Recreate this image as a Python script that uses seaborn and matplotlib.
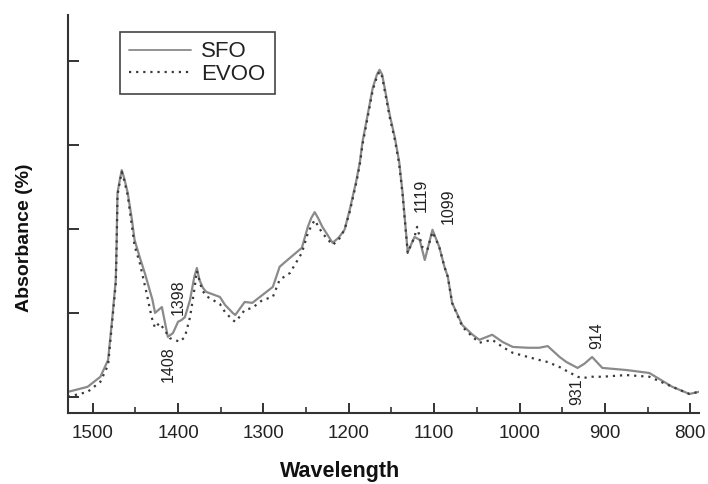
import matplotlib
matplotlib.use("Agg")
import matplotlib.pyplot as plt
from matplotlib.lines import Line2D
from matplotlib.ticker import MultipleLocator, NullFormatter
import pandas as pd
import seaborn as sns

# FTIR absorbance spectra (wavenumber axis runs high -> low)
sfo_wn = [1529, 1506, 1491, 1482, 1477, 1473, 1472, 1471, 1468, 1466, 1463, 1459,
          1454, 1451, 1445, 1439, 1430, 1427, 1419, 1412, 1406, 1400, 1396, 1392,
          1386, 1381, 1378, 1375, 1371, 1367, 1351, 1345, 1336, 1333, 1327, 1322,
          1313, 1301, 1289, 1281, 1269, 1255, 1248, 1244, 1240, 1236, 1231, 1219,
          1212, 1205, 1199, 1191, 1187, 1184, 1178, 1172, 1167, 1164, 1161, 1158,
          1152, 1146, 1141, 1137, 1131, 1123, 1117, 1111, 1102, 1094, 1088, 1084,
          1079, 1067, 1055, 1047, 1032, 1020, 1008, 990, 977, 967, 953, 945, 932,
          924, 915, 903, 875, 848, 821, 801, 790]
sfo_abs = [0.012, 0.024, 0.048, 0.088, 0.190, 0.279, 0.367, 0.486, 0.520, 0.540, 0.520, 0.486,
           0.421, 0.374, 0.333, 0.295, 0.231, 0.200, 0.214, 0.143, 0.152, 0.179, 0.183, 0.190,
           0.231, 0.286, 0.307, 0.279, 0.260, 0.250, 0.238, 0.219, 0.200, 0.195, 0.212, 0.226,
           0.224, 0.243, 0.262, 0.310, 0.331, 0.355, 0.405, 0.426, 0.440, 0.426, 0.405, 0.367,
           0.379, 0.398, 0.445, 0.517, 0.560, 0.607, 0.671, 0.736, 0.768, 0.779, 0.768, 0.736,
           0.671, 0.617, 0.560, 0.486, 0.345, 0.381, 0.374, 0.326, 0.398, 0.357, 0.310, 0.286,
           0.224, 0.171, 0.148, 0.136, 0.148, 0.131, 0.119, 0.117, 0.117, 0.121, 0.095, 0.083,
           0.069, 0.079, 0.095, 0.069, 0.064, 0.057, 0.024, 0.007, 0.012]

evoo_wn = [1529, 1506, 1491, 1482, 1477, 1473, 1472, 1471, 1468, 1466, 1463, 1459,
           1454, 1451, 1445, 1437, 1431, 1427, 1422, 1416, 1410, 1404, 1398, 1392,
           1386, 1381, 1378, 1372, 1367, 1351, 1345, 1336, 1333, 1327, 1322, 1313,
           1301, 1289, 1281, 1269, 1255, 1248, 1244, 1240, 1236, 1231, 1219, 1212,
           1205, 1199, 1191, 1187, 1184, 1178, 1172, 1167, 1164, 1161, 1158, 1152,
           1146, 1141, 1137, 1131, 1123, 1120, 1114, 1108, 1102, 1094, 1088, 1084,
           1079, 1067, 1055, 1047, 1032, 1020, 1008, 990, 977, 967, 953, 945, 932,
           926, 915, 903, 875, 848, 821, 801, 790]
evoo_abs = [0.000, 0.012, 0.036, 0.076, 0.183, 0.270, 0.360, 0.480, 0.515, 0.536, 0.515, 0.480,
            0.405, 0.360, 0.320, 0.248, 0.190, 0.164, 0.176, 0.160, 0.140, 0.136, 0.131, 0.143,
            0.190, 0.255, 0.300, 0.255, 0.240, 0.221, 0.202, 0.183, 0.179, 0.193, 0.207, 0.212,
            0.231, 0.238, 0.279, 0.295, 0.343, 0.390, 0.407, 0.421, 0.407, 0.390, 0.362, 0.374,
            0.398, 0.440, 0.512, 0.555, 0.600, 0.665, 0.730, 0.763, 0.775, 0.763, 0.730, 0.665,
            0.612, 0.555, 0.481, 0.343, 0.381, 0.405, 0.357, 0.350, 0.393, 0.357, 0.310, 0.286,
            0.224, 0.167, 0.143, 0.129, 0.136, 0.119, 0.105, 0.095, 0.088, 0.083, 0.071, 0.062,
            0.048, 0.045, 0.048, 0.048, 0.052, 0.048, 0.024, 0.007, 0.012]

series_names = ["SFO", "EVOO"]

# band assignments written next to the curves: (label, wavenumber, absorbance at text centre)
band_labels = ["1408", "1398", "1119", "1099", "914", "931"]
band_wn = [1412, 1400, 1115, 1083, 910, 933]
band_pos = [0.079, 0.238, 0.481, 0.455, 0.145, 0.012]

sfo = pd.DataFrame({"wn": sfo_wn, "absorbance": sfo_abs})
evoo = pd.DataFrame({"wn": evoo_wn, "absorbance": evoo_abs})

sns.set_theme(style="ticks")
plt.rcParams["font.family"] = ["Liberation Sans", "DejaVu Sans"]

fig = plt.figure(figsize=(7.08, 4.84), dpi=100)
ax = fig.add_axes([0.096, 0.147, 0.891, 0.822])

sfo_color = "#8a8a8a"
evoo_color = "#3a3a3a"
evoo_dash = (0, (1, 2.2))
sns.lineplot(data=sfo, x="wn", y="absorbance", ax=ax, estimator=None, sort=False,
             color=sfo_color, lw=1.6)
sns.lineplot(data=evoo, x="wn", y="absorbance", ax=ax, estimator=None, sort=False,
             color=evoo_color, lw=1.6, linestyle=evoo_dash)

for lab, w, a in zip(band_labels, band_wn, band_pos):
    ax.text(w, a, lab, rotation=90, ha="center", va="center", fontsize=11.5,
            color="#222222")

ax.set_xlim(1529, 790)
ax.set_ylim(-0.038, 0.9095)
ax.xaxis.set_major_locator(MultipleLocator(100))
ax.xaxis.set_minor_locator(MultipleLocator(50))
ax.yaxis.set_major_locator(MultipleLocator(0.2))
ax.yaxis.set_major_formatter(NullFormatter())
ax.tick_params(axis="x", which="major", direction="in", length=7, width=1.4,
               labelsize=13.5, colors="#333333", pad=9)
ax.tick_params(axis="x", which="minor", direction="in", length=4, width=1.2,
               colors="#333333")
ax.tick_params(axis="y", which="major", direction="in", length=8, width=1.4,
               colors="#333333")
for lbl in ax.get_xticklabels():
    lbl.set_color("#222222")

sns.despine(ax=ax)
for side in ("left", "bottom"):
    ax.spines[side].set_linewidth(1.5)
    ax.spines[side].set_color("#333333")

ax.set_xlabel("Wavelength", fontsize=15.5, fontweight="bold", color="#111111")
ax.set_ylabel("Absorbance (%)", fontsize=14, fontweight="bold", color="#111111")
ax.xaxis.set_label_coords(0.431, -0.12)
ax.yaxis.set_label_coords(-0.056, 0.44)

handles = [Line2D([], [], color=sfo_color, lw=1.3),
           Line2D([], [], color=evoo_color, lw=1.6, linestyle=evoo_dash)]
leg = ax.legend(handles, series_names, loc="upper left",
                bbox_to_anchor=(0.082, 0.957), borderaxespad=0, fontsize=16,
                frameon=True, fancybox=False, framealpha=1, edgecolor="#444444",
                handlelength=2.8, handletextpad=0.45, borderpad=0.42,
                labelspacing=0.05)
leg.get_frame().set_linewidth(1.2)
for t in leg.get_texts():
    t.set_color("#222222")

fig.savefig("out.png", dpi=100)
